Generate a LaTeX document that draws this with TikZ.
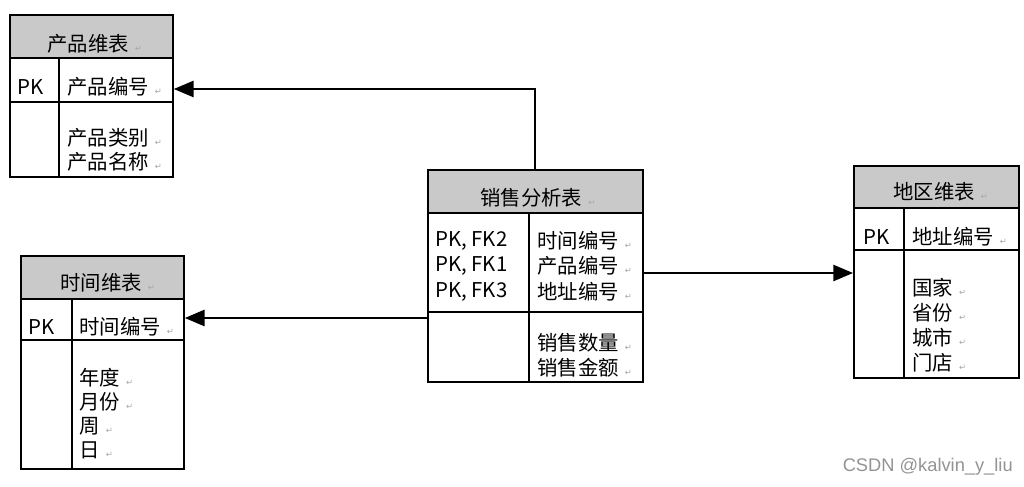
\documentclass[tikz,border=0pt]{standalone}
\usepackage{fontspec}
\setmainfont{Noto Sans CJK SC}
\newfontfamily\markfont{DejaVu Sans}
\newfontfamily\wmfont{Liberation Sans}
\usetikzlibrary{arrows.meta}
\definecolor{headgray}{RGB}{201,201,201}
\newcommand{\ret}{\hspace{0.3em}{\markfont\fontsize{6}{6}\selectfont\color{gray!70}↵}}
\newcommand{\pxu}{0.025cm}

\begin{document}
\begin{tikzpicture}[x=0.025cm, y=-0.025cm,
    cell/.style={draw, line width=1.3pt, anchor=north west, inner sep=0pt},
    head/.style={cell, fill=headgray},
    txt/.style={anchor=west, inner sep=0pt, font=\fontsize{14.5}{16}\selectfont},
    link/.style={line width=1.4pt, -{Triangle[length=14pt, width=11.5pt]}}]
    \useasboundingbox (0,0) rectangle (1024,486);

    % product dimension
    \node[head, minimum width=163*\pxu, minimum height=43*\pxu] (pHead) at (9,14) {};
    \node[cell, minimum width=49*\pxu, minimum height=44*\pxu] (pKeyL) at (9,57) {};
    \node[cell, minimum width=114*\pxu, minimum height=44*\pxu] (pKeyR) at (58,57) {};
    \node[cell, minimum width=49*\pxu, minimum height=75*\pxu] (pAttL) at (9,101) {};
    \node[cell, minimum width=114*\pxu, minimum height=75*\pxu] (pAttR) at (58,101) {};
    \node[txt] (pTitle) at (47,44) {产品维表\ret};
    \node[txt] (pPk) at (17,87) {PK};
    \node[txt] (pId) at (67,87) {产品编号\ret};
    \foreach \t [count=\i] in {产品类别,产品名称} {
        \node[txt] (pAtt\i) at (67,114+24*\i) {\t\ret};
    }

    % time dimension
    \node[head, minimum width=163*\pxu, minimum height=43*\pxu] (tHead) at (20,255) {};
    \node[cell, minimum width=51*\pxu, minimum height=41*\pxu] (tKeyL) at (20,298) {};
    \node[cell, minimum width=112*\pxu, minimum height=41*\pxu] (tKeyR) at (71,298) {};
    \node[cell, minimum width=51*\pxu, minimum height=129*\pxu] (tAttL) at (20,339) {};
    \node[cell, minimum width=112*\pxu, minimum height=129*\pxu] (tAttR) at (71,339) {};
    \node[txt] (tTitle) at (60,283) {时间维表\ret};
    \node[txt] (tPk) at (28,327) {PK};
    \node[txt] (tId) at (79,327) {时间编号\ret};
    \foreach \t [count=\i] in {年度,月份,周,日} {
        \node[txt] (tAtt\i) at (79,354+24*\i) {\t\ret};
    }

    % sales fact
    \node[head, minimum width=215*\pxu, minimum height=43*\pxu] (sHead) at (427,169) {};
    \node[cell, minimum width=101*\pxu, minimum height=99*\pxu] (sKeyL) at (427,212) {};
    \node[cell, minimum width=114*\pxu, minimum height=99*\pxu] (sKeyR) at (528,212) {};
    \node[cell, minimum width=101*\pxu, minimum height=70*\pxu] (sAttL) at (427,311) {};
    \node[cell, minimum width=114*\pxu, minimum height=70*\pxu] (sAttR) at (528,311) {};
    \node[txt] (sTitle) at (480,198) {销售分析表\ret};
    \foreach \k/\t [count=\i] in {2/时间编号,1/产品编号,3/地址编号} {
        \node[txt] (sPk\i) at (435,215+25.5*\i) {PK, FK\k};
        \node[txt] (sId\i) at (537,215+25.5*\i) {\t\ret};
    }
    \foreach \t [count=\i] in {销售数量,销售金额} {
        \node[txt] (sAtt\i) at (537,318+25*\i) {\t\ret};
    }

    % region dimension
    \node[head, minimum width=165*\pxu, minimum height=42*\pxu] (rHead) at (853,165) {};
    \node[cell, minimum width=50*\pxu, minimum height=42*\pxu] (rKeyL) at (853,207) {};
    \node[cell, minimum width=115*\pxu, minimum height=42*\pxu] (rKeyR) at (903,207) {};
    \node[cell, minimum width=50*\pxu, minimum height=128*\pxu] (rAttL) at (853,249) {};
    \node[cell, minimum width=115*\pxu, minimum height=128*\pxu] (rAttR) at (903,249) {};
    \node[txt] (rTitle) at (893,192) {地区维表\ret};
    \node[txt] (rPk) at (863,237) {PK};
    \node[txt] (rId) at (912,237) {地址编号\ret};
    \foreach \t [count=\i] in {国家,省份,城市,门店} {
        \node[txt] (rAtt\i) at (912,263+25*\i) {\t\ret};
    }

    % links
    \draw[link] (sHead.north) |- (pKeyR.east |- 0,89);
    \draw[link] (sAttL.west |- 0,318) -- (tKeyR.east |- 0,318);
    \draw[link] (sKeyR.east |- 0,273) -- (rAttL.west |- 0,273);

    \node[anchor=east, inner sep=0pt, text=gray!85, font=\wmfont\fontsize{13}{15}\selectfont] (mark) at (1013,467) {CSDN @kalvin\_y\_liu};
\end{tikzpicture}
\end{document}
